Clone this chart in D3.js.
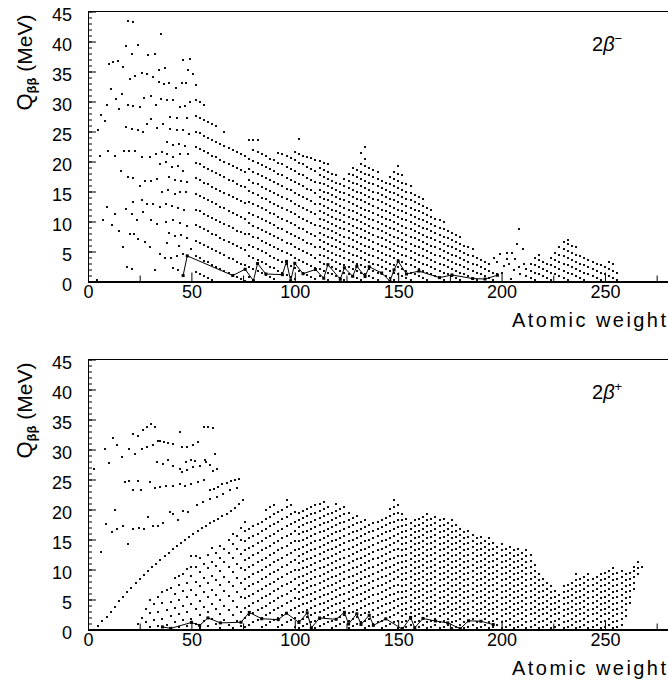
<!DOCTYPE html>
<html>
<head>
<meta charset="utf-8">
<script src="https://cdn.jsdelivr.net/npm/d3@7"></script>
<style>
  body { margin: 0; background: #fff; }
  svg { display: block; }
  text { font-family: "Liberation Sans", Arial, Helvetica, sans-serif; fill: #000; font-size: 18px; }
</style>
</head>
<body>
<div id="chart"></div>
<script>
// ---- 2beta- panel data (A, Q in MeV) ----
var topSparse = [[19.2,43.5],[21.9,43.3],[35.3,41.3],[18.4,39.2],[24.3,39.4],[21.4,37.9],[29.2,37.7],[32.4,37.9],[46.1,36.9],[49.3,37.1],
  [10.3,36.2],[12.2,36.6],[14.3,36.8],[17.1,35.8],[48.2,35.3],[20.3,33.7],[22.7,34.3],[26,34.8],[28.4,34.5],[31.3,34.1],[34.3,35.3],[37.2,35.6],
  [34.3,33.2],[36.8,32.9],[39.3,33.1],[42.4,32.3],[45.3,33.1],[47.2,33.1],[50.9,34.5],[11.1,32.1],[16.3,31.3],[13.4,30.4],[9,29.4],[19.2,29.4],
  [21.9,29.2],[25.1,29.1],[15.1,28.8],[27.1,30.6],[30.3,31],[32.7,29.4],[35.1,30.4],[38.3,30.2],[41.2,30.3],[44.5,29.1],[46.9,29.2],[49.3,30],
  [6.1,27.7],[8.2,26.7],[5,25.2],[18.4,25.7],[21.1,25.4],[24,25.2],[26.5,24.9],[28.4,26.3],[30.3,27.1],[33.2,25.6],[36.4,26.3],[39.7,25.4],
  [42.9,25.2],[46.1,25.2],[49,24.6],[39.7,27.4],[43.2,27.3],[48,27.3],[38,23.2],[41,22.8],[44,23],[47,22.6],
  [9.8,21.8],[13.1,21],[17.4,21.8],[20,21.8],[5.8,21],[16,18.4],[19.5,17.4],[21.9,17.3],[25.1,16],[27.6,16.8],[30.5,16.8],[33.2,17.1],
  [22.7,21.8],[26,20.7],[30,20.8],[32.7,21.3],[35.6,21.6],[38.3,21.3],[41.2,20.8],[44.5,21.3],[48.5,21.3],[34.8,19.6],[37.7,19.9],[40.5,19.1],
  [43.7,19.2],[46.1,18.5],[39,17.5],[42,17],[45,16.8],[48,16.6],[35.6,14.9],[38.8,15.2],[42.1,14.6],[44.5,14.9],[47.4,14.9],[21.9,13.2],[26,13.5],
  [28.4,12.9],[31.6,12.9],[34.8,12.4],[37.5,13],[40.5,12.6],[43.5,12.3],[46.5,12],[9,12.5],[13.1,11.3],[7.1,10.3],[11.5,9.5],[18.2,12.1],[21.1,11.3],
  [23.8,10.2],[26.7,11.6],[30.5,10.2],[33.5,9.6],[37.7,9.9],[41.2,10.2],[44.5,9.7],[47.7,9.3],[39,8.1],[42,7.6],[45,7.8],[48,7.2],[38,6.5],
  [44,6],[50,5.5],[15.1,8.5],[17.1,5.7],[20.3,7.9],[22.2,7.9],[30,5.7],[34.8,4.6],[37.2,4],[40,4],[42.9,4.3],[46.1,4.6],[24.3,7.1],[27.6,6.6],
  [18.7,2.4],[21.1,2.1],[32.4,2],[41.2,2.2],[43.7,2],[4.5,0.3]];

var topMidCols = [
  [52,[1.6,4.2,6.8,9.4,12.0,14.6,17.2,19.8,22.4,25.0,27.6,30.2,32.8]],
  [54,[1.3,3.9,6.5,9.1,11.7,14.3,16.9,19.5,22.1,24.7,27.3,29.9]],
  [56,[0.9,3.5,6.1,8.7,11.3,13.9,16.5,19.1,21.7,24.3,26.9,29.5]],
  [58,[0.6,3.2,5.8,8.4,11.0,13.6,16.2,18.8,21.4,24.0,26.6]],
  [60,[0.2,2.8,5.4,8.0,10.6,13.2,15.8,18.4,21.0,23.6,26.2]],
  [62,[2.5,5.1,7.7,10.3,12.9,15.5,18.1,20.7,23.3,25.9]],
  [64,[2.1,4.7,7.3,9.9,12.5,15.1,17.7,20.3,22.9]],
  [66,[1.8,4.4,7.0,9.6,12.2,14.8,17.4,20.0,22.6,25.0]],
  [68,[1.4,4.0,6.6,9.2,11.8,14.4,17.0,19.6,22.2]],
  [70,[1.1,3.7,6.3,8.9,11.5,14.1,16.7,19.3,21.9]],
  [72,[0.7,3.3,5.9,8.5,11.1,13.7,16.3,18.9,21.5]],
  [74,[0.4,3.0,5.6,8.2,10.8,13.4,16.0,18.6,21.2]],
  [76,[0.1,2.7,5.3,7.9,10.5,13.1,15.7,18.3,20.9]],
  [78,[0.7,2.5,4.3,6.1,7.9,9.7,11.5,13.3,15.1,16.9,18.7,20.5,23.6]],
  [80,[0.3,2.1,3.9,5.7,7.5,9.3,11.1,12.9,14.7,16.5,18.3,20.1,21.9,23.6]],
  [82,[1.8,3.6,5.4,7.2,9.0,10.8,12.6,14.4,16.2,18.0,19.8,21.6,23.6]],
  [84,[1.4,3.2,5.0,6.8,8.6,10.4,12.2,14.0,15.8,17.6,19.4,21.2]],
  [86,[1.1,2.9,4.7,6.5,8.3,10.1,11.9,13.7,15.5,17.3,19.1,20.9]],
  [88,[0.7,2.5,4.3,6.1,7.9,9.7,11.5,13.3,15.1,16.9,18.7,20.5]],
  [90,[0.4,2.2,4.0,5.8,7.6,9.4,11.2,13.0,14.8,16.6,18.4,20.2]],
  [92,[1.8,3.6,5.4,7.2,9.0,10.8,12.6,14.4,16.2,18.0,19.8,21.4]],
  [94,[1.5,3.3,5.1,6.9,8.7,10.5,12.3,14.1,15.9,17.7,19.5,21.3]],
  [96,[1.1,2.9,4.7,6.5,8.3,10.1,11.9,13.7,15.5,17.3,19.1,20.9]],
  [98,[0.8,2.6,4.4,6.2,8.0,9.8,11.6,13.4,15.2,17.0,18.8,20.6]],
  [100,[0.4,2.2,4.0,5.8,7.6,9.4,11.2,13.0,14.8,16.6,18.4,20.2,21.6]],
  [102,[1.8,3.6,5.4,7.2,9.0,10.8,12.6,14.4,16.2,18.0,19.8,21.2,23.8]],
  [104,[1.5,3.3,5.1,6.9,8.7,10.5,12.3,14.1,15.9,17.7,19.5,21.0]],
  [106,[1.1,2.9,4.7,6.5,8.3,10.1,11.9,13.7,15.5,17.3,19.1,20.8]],
  [108,[0.8,2.6,4.4,6.2,8.0,9.8,11.6,13.4,15.2,17.0,18.8,20.6]],
  [110,[0.4,2.2,4.0,5.8,7.6,9.4,11.2,13.0,14.8,16.6,18.4,20.2]]
];

var topHeavyCols = [
  [112,[0.9,2.1,3.3,4.5,5.7,6.9,8.1,9.3,10.5,11.7,12.9,14.1,15.3,16.5,17.7,18.9,20.1]],
  [114,[0.6,1.8,3.0,4.2,5.4,6.6,7.8,9.0,10.2,11.4,12.6,13.8,15.0,16.2,17.4,18.6,19.8]],
  [116,[0.3,1.5,2.7,3.9,5.1,6.3,7.5,8.7,9.9,11.1,12.3,13.5,14.7,15.9,17.1,18.3,19.5]],
  [118,[1.2,2.4,3.6,4.8,6.0,7.2,8.4,9.6,10.8,12.0,13.2,14.4,15.6,16.8,18.0]],
  [120,[0.9,2.1,3.3,4.5,5.7,6.9,8.1,9.3,10.5,11.7,12.9,14.1,15.3,16.5,17.7]],
  [122,[0.6,1.8,3.0,4.2,5.4,6.6,7.8,9.0,10.2,11.4,12.6,13.8,15.0,16.2]],
  [124,[0.3,1.5,2.7,3.9,5.1,6.3,7.5,8.7,9.9,11.1,12.3,13.5,14.7,15.9,17.1]],
  [126,[1.2,2.4,3.6,4.8,6.0,7.2,8.4,9.6,10.8,12.0,13.2,14.4,15.6,16.8,18.0]],
  [128,[0.9,2.1,3.3,4.5,5.7,6.9,8.1,9.3,10.5,11.7,12.9,14.1,15.3,16.5,17.7,18.9]],
  [130,[0.6,1.8,3.0,4.2,5.4,6.6,7.8,9.0,10.2,11.4,12.6,13.8,15.0,16.2,17.4,18.6]],
  [132,[0.3,1.5,2.7,3.9,5.1,6.3,7.5,8.7,9.9,11.1,12.3,13.5,14.7,15.9,17.1,18.3,19.5,21.4]],
  [134,[1.2,2.4,3.6,4.8,6.0,7.2,8.4,9.6,10.8,12.0,13.2,14.4,15.6,16.8,18.0,19.2,20.4,22.4]],
  [136,[0.9,2.1,3.3,4.5,5.7,6.9,8.1,9.3,10.5,11.7,12.9,14.1,15.3,16.5,17.7,18.9]],
  [138,[0.6,1.8,3.0,4.2,5.4,6.6,7.8,9.0,10.2,11.4,12.6,13.8,15.0,16.2,17.4,18.6]],
  [140,[0.3,1.5,2.7,3.9,5.1,6.3,7.5,8.7,9.9,11.1,12.3,13.5,14.7,15.9,17.1,18.3]],
  [142,[1.2,2.4,3.6,4.8,6.0,7.2,8.4,9.6,10.8,12.0,13.2,14.4,15.6,16.8]],
  [144,[0.9,2.1,3.3,4.5,5.7,6.9,8.1,9.3,10.5,11.7,12.9,14.1,15.3,16.5]],
  [146,[0.6,1.8,3.0,4.2,5.4,6.6,7.8,9.0,10.2,11.4,12.6,13.8,15.0,16.2,17.4]],
  [148,[0.3,1.5,2.7,3.9,5.1,6.3,7.5,8.7,9.9,11.1,12.3,13.5,14.7,15.9,17.1,18.3]],
  [150,[1.2,2.4,3.6,4.8,6.0,7.2,8.4,9.6,10.8,12.0,13.2,14.4,15.6,16.8,18.0,19.2]],
  [152,[0.9,2.1,3.3,4.5,5.7,6.9,8.1,9.3,10.5,11.7,12.9,14.1,15.3,16.5,17.7]],
  [154,[0.6,1.8,3.0,4.2,5.4,6.6,7.8,9.0,10.2,11.4,12.6,13.8,15.0,16.2]],
  [156,[0.3,1.5,2.7,3.9,5.1,6.3,7.5,8.7,9.9,11.1,12.3,13.5,14.7,15.9]],
  [158,[1.2,2.4,3.6,4.8,6.0,7.2,8.4,9.6,10.8,12.0,13.2,14.4]],
  [160,[0.9,2.1,3.3,4.5,5.7,6.9,8.1,9.3,10.5,11.7,12.9,14.1]],
  [162,[0.6,1.8,3.0,4.2,5.4,6.6,7.8,9.0,10.2,11.4,12.6,13.8]],
  [164,[0.3,1.5,2.7,3.9,5.1,6.3,7.5,8.7,9.9,11.1,12.3]],
  [166,[1.2,2.4,3.6,4.8,6.0,7.2,8.4,9.6,10.8,12.0]],
  [168,[0.9,2.1,3.3,4.5,5.7,6.9,8.1,9.3,10.5]],
  [170,[0.6,1.8,3.0,4.2,5.4,6.6,7.8,9.0,10.2]],
  [172,[0.3,1.5,2.7,3.9,5.1,6.3,7.5,8.7,9.9]],
  [174,[1.2,2.4,3.6,4.8,6.0,7.2,8.4]],
  [176,[0.9,2.1,3.3,4.5,5.7,6.9,8.1]],
  [178,[0.6,1.8,3.0,4.2,5.4,6.6,7.8]],
  [180,[0.3,1.5,2.7,3.9,5.1,6.3,7.5]],
  [182,[1.2,2.4,3.6,4.8,6.0]],
  [184,[0.9,2.1,3.3,4.5,5.7]],
  [186,[0.6,1.8,3.0,4.2,5.4]],
  [188,[0.3,1.5,2.7,3.9]],
  [190,[1.2,2.4,3.6]],
  [192,[0.9,2.1,3.3]],
  [194,[0.6,1.8,3.0]],
  [196,[0.3,1.5]],
  [198,[1.2]]
];

var topTailPts = [[199,4.6],[202.5,4.7],[205.2,4.8],[196.3,4.0],[207.6,6.2],[208.4,8.7],[210.2,5.4],[197.9,3.2],[201.1,2.6],
  [203.5,3.0],[200.3,1.5],[205.9,2.0],[208.3,2.4],[204.6,0.4],[209.1,1.2],[210.7,2.9],[206.7,3.7],[202.4,3.7]];

var topTailCols = [
  [212,[0.9,2.1]],[214,[0.6,1.8,3.0]],[216,[0.3,1.5,2.7,3.9]],[218,[1.2,2.4,3.6,4.4]],[220,[0.9,2.1,3.3]],
  [222,[0.6,1.8,3.0]],[224,[0.3,1.5,2.7,3.9]],[226,[1.2,2.4,3.6,4.8]],[228,[0.9,2.1,3.3,4.5,5.7]],
  [230,[0.6,1.8,3.0,4.2,5.4,6.6]],[232,[0.3,1.5,2.7,3.9,5.1,6.3,7.0]],[234,[1.2,2.4,3.6,4.8,6.0]],
  [236,[0.9,2.1,3.3,4.5,5.7]],[238,[0.6,1.8,3.0,4.2]],[240,[0.3,1.5,2.7,3.9]],[242,[1.2,2.4,3.6]],
  [244,[0.9,2.1,3.3]],[246,[0.6,1.8,3.0]],[248,[0.3,1.5,2.7]],[250,[1.2,2.4]],[252,[0.9,2.1,3.3]],
  [254,[0.6,1.8,3.0]],[256,[0.3,1.5]]
];

var topLineA = [46,48,70,76,80,82,86,94,96,98,100,104,110,114,116,122,124,128,130,134,136,142,146,148,150,154,160,170,176,186,192,198];
var topLineQ = [0.99,4.27,1.0,2.04,0.13,3.0,1.26,1.14,3.35,0.11,3.03,1.3,2.0,0.54,2.81,0.37,2.29,0.87,2.53,0.83,2.46,1.42,0.07,1.93,3.37,1.25,1.73,0.65,1.09,0.49,0.41,1.05];

// ---- 2beta+ panel data ----
var botSparse = [[3,26.8],[12.2,32],[14.2,30.7],[8.2,30.1],[10.3,27.7],[16.3,28.7],[21.9,32.6],[24.3,32.2],[26.5,33.3],[28.4,33.8],[30.3,34.2],
  [32.4,33.7],[20,30.1],[22.7,29.3],[26,30.1],[28.4,30.4],[31.6,30.7],[34,31.4],[17.9,24.6],[20,24.7],[24.3,24.8],[21.9,23.3],[25.5,23.2],
  [30,24.6],[32.4,23.6],[34.8,23.8],[37.7,24],[41.2,24],[44.5,24.2],[34.8,31.5],[36.8,31.2],[38.8,31.1],[41.2,31],[44.5,32.9],[45.3,30.4],
  [48,30.4],[50.6,30.7],[53.3,31.2],[56.1,33.8],[58.2,33.8],[60.3,33.6],[33.2,27.9],[36.1,27.6],[38.8,28.2],[41.2,27.2],[44.5,26.8],[47.4,27.9],
  [49.7,28.2],[51.7,28.1],[56.6,28.2],[59,27.5],[61.4,29.3],[45.3,26.2],[47.7,26.6],[50.9,27.1],[54.2,27.3],[57.1,27.9],[60.6,26.5],[62.2,26.8],
  [47,24],[50,24.3],[53,24.6],[56,24.9],[59,23.2],[61,23.5],[63,23.8],[65,24.2],[67,24.5],[69,24.8],[71,25],[73,25.1],
  [6.3,12.9],[8.7,17.6],[11.5,16.2],[14.2,16.8],[17.1,17.2],[19.5,14.3],[21.6,16.8],[24.8,17],[27.1,16.7],[29.2,18.7],[31.3,17.3],[34,17.3],
  [36.4,17.7],[39.7,19.6],[41.2,19.3],[43.7,18.2],[46.1,19.8],[48.5,19.6],[52.6,20.7],[13,20],[55.8,21.2],[59,21.8],[62.2,22.1],[65.4,22.6],
  [68.7,23.2],[71.9,23.6]];

var botChainA = [5,7,9,11,13,15,17,19,21,23,25,27,29,31,33,35,37,39,41,43,45,47,49,51,53,55,57,59,61,63,65,67,69,71,73,75];
var botChainQ = [0.6,1.4,2.1,2.9,3.8,4.7,5.5,6.3,7.0,7.7,8.4,9.1,9.8,10.4,11.0,11.6,12.2,12.8,13.4,13.9,14.5,15.0,15.5,16.0,16.4,16.9,17.3,17.7,18.1,18.5,18.9,19.3,19.8,20.3,20.9,21.5];

var botLowCols = [
  [24,[1.0]],[26,[2.0]],[28,[1.2,3.5]],[30,[0.4,2.8,5.0]],[32,[1.6,4.2]],[34,[0.6,3.0,5.4]],[36,[1.8,4.4,6.2]],
  [38,[0.8,3.2,6.6]],[40,[0.2,2.2,4.6,7.0]],[42,[1.2,3.6,6.0,8.6]],[44,[0.4,2.6,5.0,7.4,9.0]],[46,[1.6,4.0,6.4,9.3]],
  [48,[0.6,3.0,5.4,7.8,10.1]],[50,[1.8,4.2,6.6,9.0,10.5,12.2]],[52,[1.0,3.4,5.8,8.0,10.4,12.2]],[54,[0.2,2.4,4.8,7.2,9.6,12.0]],
  [56,[1.4,3.8,6.2,8.6,10.9]],[58,[0.6,3.0,5.4,7.8,10.2,12.4]],[60,[1.8,4.2,6.6,9.0,11.2,13.6]],[62,[1.0,3.4,5.8,8.2,10.6,12.8]],
  [64,[0.3,2.6,5.0,7.4,9.8,12.0,14.0]],[66,[1.6,4.0,6.4,8.8,11.2,13.4]],[68,[0.8,3.2,5.6,8.0,10.4,12.8,15.0]],
  [70,[0.2,2.4,4.8,7.2,9.6,12.0,14.2,16.0]],[72,[1.4,3.8,6.2,8.6,11.0,13.4,15.6]],[74,[0.6,3.0,5.4,7.8,10.2,12.6,15.0,17.0]]
];

var botMidCols = [
  [76,[0.4,2.0,3.6,5.2,6.8,8.4,10.0,11.6,13.2,14.8,16.4,18.0]],
  [78,[0.8,2.4,4.0,5.6,7.2,8.8,10.4,12.0,13.6,15.2,16.8]],
  [80,[1.2,2.8,4.4,6.0,7.6,9.2,10.8,12.4,14.0,15.6,17.2]],
  [82,[1.6,3.2,4.8,6.4,8.0,9.6,11.2,12.8,14.4,16.0,17.6]],
  [84,[0.4,2.0,3.6,5.2,6.8,8.4,10.0,11.6,13.2,14.8,16.4,18.0]],
  [86,[0.8,2.4,4.0,5.6,7.2,8.8,10.4,12.0,13.6,15.2,16.8,18.4,20.0]],
  [88,[1.2,2.8,4.4,6.0,7.6,9.2,10.8,12.4,14.0,15.6,17.2,18.8,20.4]],
  [90,[1.6,3.2,4.8,6.4,8.0,9.6,11.2,12.8,14.4,16.0,17.6,19.2,20.8]],
  [92,[0.4,2.0,3.6,5.2,6.8,8.4,10.0,11.6,13.2,14.8,16.4,18.0,19.6]],
  [94,[0.8,2.4,4.0,5.6,7.2,8.8,10.4,12.0,13.6,15.2,16.8,18.4,20.0]],
  [96,[1.2,2.8,4.4,6.0,7.6,9.2,10.8,12.4,14.0,15.6,17.2,18.8,20.4,21.5]],
  [98,[1.6,3.2,4.8,6.4,8.0,9.6,11.2,12.8,14.4,16.0,17.6,19.2,20.8]],
  [100,[0.4,2.0,3.6,5.2,6.8,8.4,10.0,11.6,13.2,14.8,16.4,18.0,19.6]],
  [102,[0.3,1.5,2.7,3.9,5.1,6.3,7.5,8.7,9.9,11.1,12.3,13.5,14.7,15.9,17.1,18.3,19.5]],
  [104,[0.6,1.8,3.0,4.2,5.4,6.6,7.8,9.0,10.2,11.4,12.6,13.8,15.0,16.2,17.4,18.6,19.8]],
  [106,[0.9,2.1,3.3,4.5,5.7,6.9,8.1,9.3,10.5,11.7,12.9,14.1,15.3,16.5,17.7,18.9,20.1]],
  [108,[1.2,2.4,3.6,4.8,6.0,7.2,8.4,9.6,10.8,12.0,13.2,14.4,15.6,16.8,18.0,19.2,20.4]],
  [110,[0.3,1.5,2.7,3.9,5.1,6.3,7.5,8.7,9.9,11.1,12.3,13.5,14.7,15.9,17.1,18.3,19.5,20.7]],
  [112,[0.6,1.8,3.0,4.2,5.4,6.6,7.8,9.0,10.2,11.4,12.6,13.8,15.0,16.2,17.4,18.6,19.8,21.0]],
  [114,[0.9,2.1,3.3,4.5,5.7,6.9,8.1,9.3,10.5,11.7,12.9,14.1,15.3,16.5,17.7,18.9,20.1,21.2]],
  [116,[1.2,2.4,3.6,4.8,6.0,7.2,8.4,9.6,10.8,12.0,13.2,14.4,15.6,16.8,18.0,19.2,20.4]],
  [118,[0.3,1.5,2.7,3.9,5.1,6.3,7.5,8.7,9.9,11.1,12.3,13.5,14.7,15.9,17.1,18.3,19.5]],
  [120,[0.6,1.8,3.0,4.2,5.4,6.6,7.8,9.0,10.2,11.4,12.6,13.8,15.0,16.2,17.4,18.6,19.8,21.0]],
  [122,[0.9,2.1,3.3,4.5,5.7,6.9,8.1,9.3,10.5,11.7,12.9,14.1,15.3,16.5,17.7,18.9,20.1]],
  [124,[1.2,2.4,3.6,4.8,6.0,7.2,8.4,9.6,10.8,12.0,13.2,14.4,15.6,16.8,18.0,19.2,20.4]],
  [126,[0.3,1.5,2.7,3.9,5.1,6.3,7.5,8.7,9.9,11.1,12.3,13.5,14.7,15.9,17.1,18.3,19.5]],
  [128,[0.6,1.8,3.0,4.2,5.4,6.6,7.8,9.0,10.2,11.4,12.6,13.8,15.0,16.2,17.4,18.6]],
  [130,[0.9,2.1,3.3,4.5,5.7,6.9,8.1,9.3,10.5,11.7,12.9,14.1,15.3,16.5,17.7,18.9]],
  [132,[1.2,2.4,3.6,4.8,6.0,7.2,8.4,9.6,10.8,12.0,13.2,14.4,15.6,16.8,18.0]],
  [134,[0.3,1.5,2.7,3.9,5.1,6.3,7.5,8.7,9.9,11.1,12.3,13.5,14.7,15.9,17.1,18.3]],
  [136,[0.6,1.8,3.0,4.2,5.4,6.6,7.8,9.0,10.2,11.4,12.6,13.8,15.0,16.2,17.4]],
  [138,[0.9,2.1,3.3,4.5,5.7,6.9,8.1,9.3,10.5,11.7,12.9,14.1,15.3,16.5,17.7]],
  [140,[1.2,2.4,3.6,4.8,6.0,7.2,8.4,9.6,10.8,12.0,13.2,14.4,15.6,16.8,18.0]],
  [142,[0.3,1.5,2.7,3.9,5.1,6.3,7.5,8.7,9.9,11.1,12.3,13.5,14.7,15.9,17.1,18.3]],
  [144,[0.6,1.8,3.0,4.2,5.4,6.6,7.8,9.0,10.2,11.4,12.6,13.8,15.0,16.2,17.4,18.6]],
  [146,[0.9,2.1,3.3,4.5,5.7,6.9,8.1,9.3,10.5,11.7,12.9,14.1,15.3,16.5,17.7,18.9,20.1]],
  [148,[1.2,2.4,3.6,4.8,6.0,7.2,8.4,9.6,10.8,12.0,13.2,14.4,15.6,16.8,18.0,19.2,20.4,21.6]],
  [150,[0.3,1.5,2.7,3.9,5.1,6.3,7.5,8.7,9.9,11.1,12.3,13.5,14.7,15.9,17.1,18.3,19.5,20.7]]
];

var botHeavyCols = [
  [152,[0.2,1.2,2.2,3.2,4.2,5.2,6.2,7.2,8.2,9.2,10.2,11.2,12.2,13.2,14.2,15.2,16.2,17.2,18.2,19.2]],
  [154,[0.5,1.5,2.5,3.5,4.5,5.5,6.5,7.5,8.5,9.5,10.5,11.5,12.5,13.5,14.5,15.5,16.5,17.5,18.5]],
  [156,[0.8,1.8,2.8,3.8,4.8,5.8,6.8,7.8,8.8,9.8,10.8,11.8,12.8,13.8,14.8,15.8,16.8,17.8]],
  [158,[0.2,1.2,2.2,3.2,4.2,5.2,6.2,7.2,8.2,9.2,10.2,11.2,12.2,13.2,14.2,15.2,16.2,17.2,18.2]],
  [160,[0.5,1.5,2.5,3.5,4.5,5.5,6.5,7.5,8.5,9.5,10.5,11.5,12.5,13.5,14.5,15.5,16.5,17.5,18.5]],
  [162,[0.8,1.8,2.8,3.8,4.8,5.8,6.8,7.8,8.8,9.8,10.8,11.8,12.8,13.8,14.8,15.8,16.8,17.8,18.8]],
  [164,[0.2,1.2,2.2,3.2,4.2,5.2,6.2,7.2,8.2,9.2,10.2,11.2,12.2,13.2,14.2,15.2,16.2,17.2,18.2,19.2]],
  [166,[0.5,1.5,2.5,3.5,4.5,5.5,6.5,7.5,8.5,9.5,10.5,11.5,12.5,13.5,14.5,15.5,16.5,17.5,18.5]],
  [168,[0.8,1.8,2.8,3.8,4.8,5.8,6.8,7.8,8.8,9.8,10.8,11.8,12.8,13.8,14.8,15.8,16.8,17.8,18.8]],
  [170,[0.2,1.2,2.2,3.2,4.2,5.2,6.2,7.2,8.2,9.2,10.2,11.2,12.2,13.2,14.2,15.2,16.2,17.2,18.2]],
  [172,[0.5,1.5,2.5,3.5,4.5,5.5,6.5,7.5,8.5,9.5,10.5,11.5,12.5,13.5,14.5,15.5,16.5,17.5,18.5]],
  [174,[0.8,1.8,2.8,3.8,4.8,5.8,6.8,7.8,8.8,9.8,10.8,11.8,12.8,13.8,14.8,15.8,16.8,17.8]],
  [176,[0.2,1.2,2.2,3.2,4.2,5.2,6.2,7.2,8.2,9.2,10.2,11.2,12.2,13.2,14.2,15.2,16.2,17.2,18.2]],
  [178,[0.5,1.5,2.5,3.5,4.5,5.5,6.5,7.5,8.5,9.5,10.5,11.5,12.5,13.5,14.5,15.5,16.5,17.5]],
  [180,[0.8,1.8,2.8,3.8,4.8,5.8,6.8,7.8,8.8,9.8,10.8,11.8,12.8,13.8,14.8,15.8,16.8]],
  [182,[0.2,1.2,2.2,3.2,4.2,5.2,6.2,7.2,8.2,9.2,10.2,11.2,12.2,13.2,14.2,15.2,16.2]],
  [184,[0.5,1.5,2.5,3.5,4.5,5.5,6.5,7.5,8.5,9.5,10.5,11.5,12.5,13.5,14.5,15.5,16.5]],
  [186,[0.8,1.8,2.8,3.8,4.8,5.8,6.8,7.8,8.8,9.8,10.8,11.8,12.8,13.8,14.8,15.8]],
  [188,[0.2,1.2,2.2,3.2,4.2,5.2,6.2,7.2,8.2,9.2,10.2,11.2,12.2,13.2,14.2,15.2]],
  [190,[0.5,1.5,2.5,3.5,4.5,5.5,6.5,7.5,8.5,9.5,10.5,11.5,12.5,13.5,14.5,15.5]],
  [192,[0.8,1.8,2.8,3.8,4.8,5.8,6.8,7.8,8.8,9.8,10.8,11.8,12.8,13.8,14.8]],
  [194,[0.2,1.2,2.2,3.2,4.2,5.2,6.2,7.2,8.2,9.2,10.2,11.2,12.2,13.2,14.2,15.2]],
  [196,[0.5,1.5,2.5,3.5,4.5,5.5,6.5,7.5,8.5,9.5,10.5,11.5,12.5,13.5,14.5]],
  [198,[0.8,1.8,2.8,3.8,4.8,5.8,6.8,7.8,8.8,9.8,10.8,11.8,12.8,13.8]],
  [200,[0.2,1.2,2.2,3.2,4.2,5.2,6.2,7.2,8.2,9.2,10.2,11.2,12.2,13.2,14.2]],
  [202,[0.5,1.5,2.5,3.5,4.5,5.5,6.5,7.5,8.5,9.5,10.5,11.5,12.5,13.5]],
  [204,[0.8,1.8,2.8,3.8,4.8,5.8,6.8,7.8,8.8,9.8,10.8,11.8,12.8,13.8]],
  [206,[0.2,1.2,2.2,3.2,4.2,5.2,6.2,7.2,8.2,9.2,10.2,11.2,12.2,13.2]],
  [208,[0.5,1.5,2.5,3.5,4.5,5.5,6.5,7.5,8.5,9.5,10.5,11.5,12.5,13.5]],
  [210,[0.8,1.8,2.8,3.8,4.8,5.8,6.8,7.8,8.8,9.8,10.8,11.8,12.8]],
  [212,[0.2,1.2,2.2,3.2,4.2,5.2,6.2,7.2,8.2,9.2,10.2,11.2,12.2,13.2]],
  [214,[0.5,1.5,2.5,3.5,4.5,5.5,6.5,7.5,8.5,9.5,10.5,11.5,12.5]]
];

var botTailCols = [
  [216,[0.8,1.8,2.8,3.8,4.8,5.8,6.8,7.8,8.8,9.8,10.8]],
  [218,[0.2,1.2,2.2,3.2,4.2,5.2,6.2,7.2,8.2,9.2]],
  [220,[0.5,1.5,2.5,3.5,4.5,5.5,6.5,7.5,8.5]],
  [222,[0.8,1.8,2.8,3.8,4.8,5.8,6.8,7.8]],
  [224,[0.2,1.2,2.2,3.2,4.2,5.2,6.2,7.2]],
  [226,[0.5,1.5,2.5,3.5,4.5,5.5,6.5]],
  [228,[0.8,1.8,2.8,3.8,4.8,5.8]],
  [230,[0.2,1.2,2.2,3.2,4.2,5.2,6.2,7.2]],
  [232,[0.5,1.5,2.5,3.5,4.5,5.5,6.5,7.5]],
  [234,[0.8,1.8,2.8,3.8,4.8,5.8,6.8,7.8]],
  [236,[0.2,1.2,2.2,3.2,4.2,5.2,6.2,7.2,8.2,9.2]],
  [238,[0.5,1.5,2.5,3.5,4.5,5.5,6.5,7.5,8.5]],
  [240,[0.8,1.8,2.8,3.8,4.8,5.8,6.8,7.8,8.8]],
  [242,[0.2,1.2,2.2,3.2,4.2,5.2,6.2,7.2,8.2,9.2]],
  [244,[0.5,1.5,2.5,3.5,4.5,5.5,6.5,7.5,8.5]],
  [246,[0.8,1.8,2.8,3.8,4.8,5.8,6.8,7.8,8.8]],
  [248,[0.2,1.2,2.2,3.2,4.2,5.2,6.2,7.2,8.2,9.2]],
  [250,[0.5,1.5,2.5,3.5,4.5,5.5,6.5,7.5,8.5,9.5]],
  [252,[0.8,1.8,2.8,3.8,4.8,5.8,6.8,7.8,8.8,9.8]],
  [254,[0.2,1.2,2.2,3.2,4.2,5.2,6.2,7.2,8.2,9.2,10.2]],
  [256,[0.5,1.5,2.5,3.5,4.5,5.5,6.5,7.5,8.5,9.5]],
  [258,[0.8,1.8,2.8,3.8,4.8,5.8,6.8,7.8,8.8,9.8]],
  [260,[2.2,3.2,4.2,5.2,6.2,7.2,8.2,9.2]],
  [262,[4.5,5.5,6.5,7.5,8.5,9.5]],
  [264,[6.8,7.8,8.8,9.8,10.4]],
  [266,[9.2,10.2,11.2]],
  [268,[10.5]]
];

var botLineA = [36,40,50,54,58,64,74,78,84,92,96,102,106,108,112,120,124,126,130,132,136,138,144,152,156,158,162,168,174,180,184,190,196];
var botLineQ = [0.43,0.19,1.17,0.68,1.93,1.1,1.21,2.85,1.79,1.65,2.71,1.17,2.78,0.27,1.92,1.7,2.86,0.92,2.62,0.84,2.38,0.69,1.78,0.06,2.01,0.28,1.84,1.42,1.1,0.14,1.45,1.38,0.82];

// axis ticks
var xMajor = [0, 50, 100, 150, 200, 250];
var xMinor = [25, 75, 125, 175, 225, 275];
var yMajor = [0, 5, 10, 15, 20, 25, 30, 35, 40, 45];

var svgWidth = 668;
var svgHeight = 686;

var svg = d3.select("#chart")
  .append("svg")
  .attr("width", svgWidth)
  .attr("height", svgHeight);

var x = d3.scaleLinear().domain([0, 280]).range([88, 667]);

function colPoints(cols) {
  var out = [];
  cols.forEach(function(c) {
    c[1].forEach(function(q) { out.push([c[0], q]); });
  });
  return out;
}

function drawPanel(p) {
  var y = d3.scaleLinear().domain([0, 45]).range([p.y0, p.y0 - 270]);
  var g = svg.append("g");

  // minor / major ticks on y
  g.append("g")
    .attr("transform", "translate(88,0)")
    .call(d3.axisLeft(y).ticks(45).tickSize(-4).tickFormat(""))
    .call(function(s) { s.select(".domain").remove(); });

  var yAxis = g.append("g")
    .attr("transform", "translate(88,0)")
    .call(d3.axisLeft(y).tickValues(yMajor).tickSize(-8).tickPadding(16));
  yAxis.select(".domain").remove();
  yAxis.attr("font-size", null).attr("font-family", null);
  yAxis.selectAll("text").attr("dy", "0.5em");

  var xAxis = g.append("g")
    .attr("transform", "translate(0," + p.y0 + ")")
    .call(d3.axisBottom(x).tickValues(xMajor).tickSize(-9).tickPadding(4));
  xAxis.select(".domain").remove();
  xAxis.attr("font-size", null).attr("font-family", null);

  g.append("g")
    .attr("transform", "translate(0," + p.y0 + ")")
    .call(d3.axisBottom(x).tickValues(xMinor).tickSize(-6).tickFormat(""))
    .call(function(s) { s.select(".domain").remove(); });

  // frame
  g.append("line").attr("x1", 88).attr("x2", 668).attr("y1", y(45)).attr("y2", y(45))
    .attr("stroke", "#000").attr("stroke-width", 1);
  g.append("line").attr("x1", 88.5).attr("x2", 88.5).attr("y1", y(45)).attr("y2", p.y0 + 1)
    .attr("stroke", "#000").attr("stroke-width", 1);
  g.append("line").attr("x1", 88).attr("x2", 668).attr("y1", p.y0 + 0.5).attr("y2", p.y0 + 0.5)
    .attr("stroke", "#000").attr("stroke-width", 2);

  // dots
  var pts = p.sparse.concat(colPoints(p.cols));
  g.append("g").selectAll("rect")
    .data(pts)
    .enter()
    .append("rect")
    .attr("x", d => Math.round(x(d[0])) - 1)
    .attr("y", d => Math.round(y(d[1])) - 1)
    .attr("width", 2)
    .attr("height", 2)
    .attr("fill", "#111");

  // line of candidate nuclei
  var lineData = p.lineA.map((a, i) => [a, p.lineQ[i]]);
  g.append("path")
    .datum(lineData)
    .attr("fill", "none")
    .attr("stroke", "#000")
    .attr("stroke-width", 1)
    .attr("d", d3.line().x(d => x(d[0])).y(d => y(d[1])));
  g.append("g").selectAll("rect")
    .data(lineData)
    .enter()
    .append("rect")
    .attr("x", d => x(d[0]) - 1.5)
    .attr("y", d => y(d[1]) - 1.5)
    .attr("width", 3)
    .attr("height", 3)
    .attr("fill", "#000");

  // axis titles
  g.append("text")
    .attr("x", 666)
    .attr("y", p.y0 + 45.5)
    .attr("text-anchor", "end")
    .attr("textLength", 154)
    .attr("lengthAdjust", "spacing")
    .style("font-size", "20px")
    .text("Atomic weight");

  var yt = g.append("text")
    .attr("transform", "translate(32," + (p.y0 - 219) + ") rotate(-90)")
    .attr("text-anchor", "middle")
    .style("font-size", "21px");
  yt.append("tspan").style("font-size", "22px").text("Q");
  yt.append("tspan").attr("dy", 4).style("font-size", "13px").style("font-weight", "bold").text("ββ");
  yt.append("tspan").attr("dy", -4).text(" (MeV)");

  // process label
  var lab = g.append("text")
    .attr("x", 592)
    .attr("y", p.y0 - 231)
    .style("font-size", "20px");
  lab.append("tspan").text("2");
  lab.append("tspan").style("font-style", "italic").text("β");
  lab.append("tspan").attr("dy", -8).style("font-size", "13px").text(p.sign);
}

// 2beta- panel
drawPanel({
  y0: 281.5,
  sparse: topSparse.concat(topTailPts),
  cols: topMidCols.concat(topHeavyCols, topTailCols),
  lineA: topLineA,
  lineQ: topLineQ,
  sign: "\u2212"
});

// 2beta+ panel
drawPanel({
  y0: 629.5,
  sparse: botSparse.concat(botChainA.map((a, i) => [a, botChainQ[i]])),
  cols: botLowCols.concat(botMidCols, botHeavyCols, botTailCols),
  lineA: botLineA,
  lineQ: botLineQ,
  sign: "+"
});
</script>
</body>
</html>
